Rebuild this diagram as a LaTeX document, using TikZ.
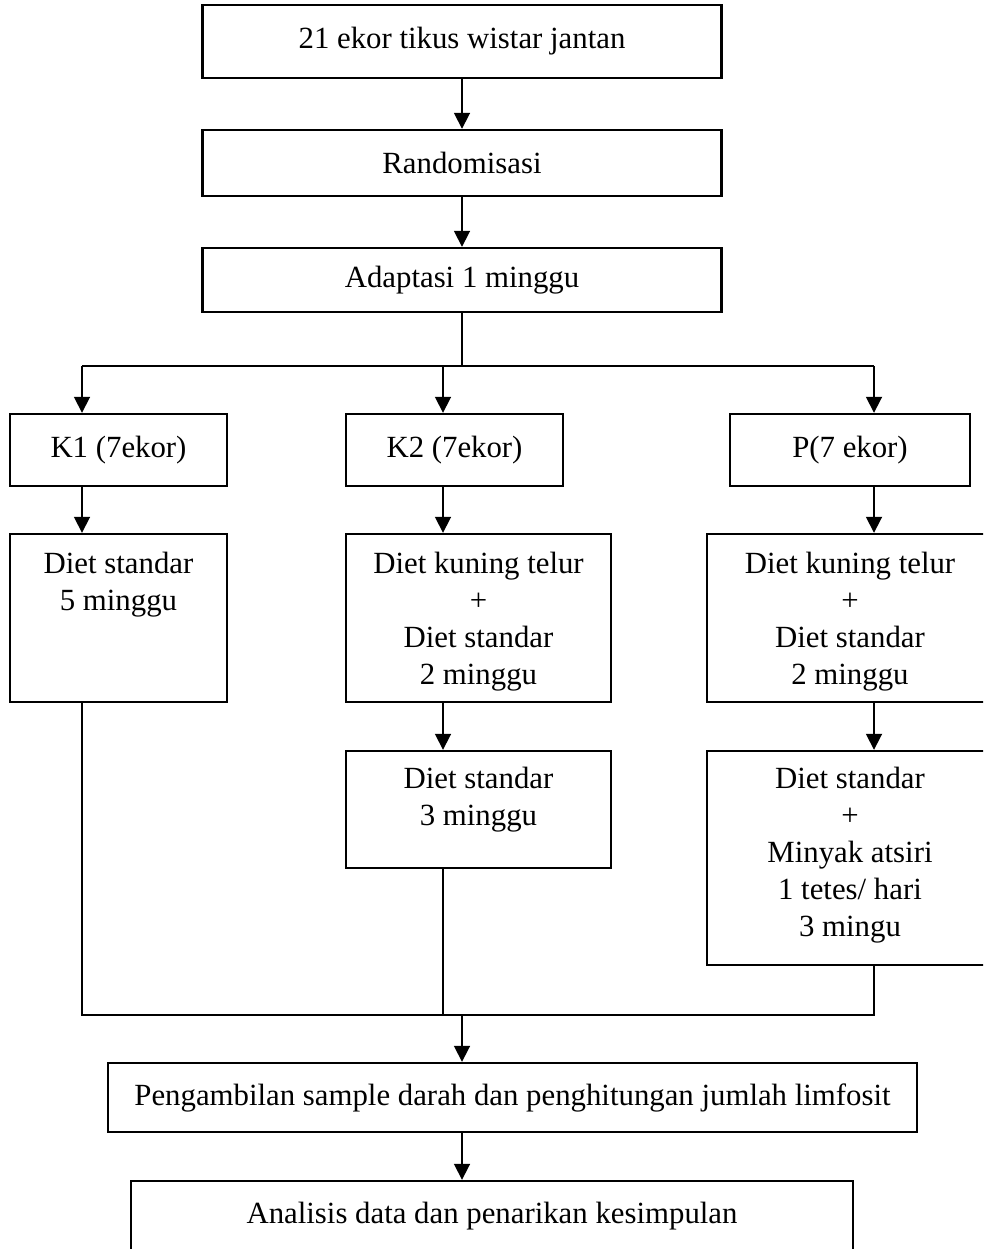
\documentclass[tikz,border=0pt]{standalone}
\usepackage{fontspec}
\setmainfont{Liberation Serif}
\usetikzlibrary{arrows.meta}
\tikzset{box/.style={draw,line width=2.4pt,inner sep=0pt},
  txt/.style={anchor=north,align=center,inner sep=0pt},
  ln/.style={line width=1.8pt},
  arr/.style={line width=1.8pt,-{Triangle[length=16pt,width=16pt]}}}
\begin{document}
\begin{tikzpicture}[x=1pt,y=-1pt,font=\fontsize{30.8}{37}\selectfont]
\useasboundingbox(0,0)rectangle(983,1249);\clip(0,0)rectangle(983,1249);
% kotak atas
\node[box,minimum width=519,minimum height=73](tikus)at(462,41.5){21 ekor tikus wistar jantan};
\node[box,minimum width=519,minimum height=66](acak)at(462,163){Randomisasi};
\node[box,minimum width=519,minimum height=64](adapt)at(462,280){Adaptasi 1 minggu};
% kelompok
\node[box,minimum width=217,minimum height=72](k1)at(118.5,450){K1 (7ekor)};
\node[box,minimum width=217,minimum height=72](k2)at(454.5,450){K2 (7ekor)};
\node[box,minimum width=240,minimum height=72](p)at(850,450){P(7 ekor)};
\node[box,minimum width=217,minimum height=168](d1)at(118.5,618){};
\node[box,minimum width=265,minimum height=168](d2)at(478.5,618){};
\node[box,minimum width=286,minimum height=168](d3)at(850,618){};
\node[box,minimum width=265,minimum height=117](e2)at(478.5,809.5){};
\node[box,minimum width=286,minimum height=214](e3)at(850,858){};
\node[txt](d1t)at([yshift=-19pt]d1.north){Diet standar\\5 minggu};
\node[txt](d2t)at([yshift=-19pt]d2.north){Diet kuning telur\\+\\Diet standar\\2 minggu};
\node[txt](d3t)at([yshift=-19pt]d3.north){Diet kuning telur\\+\\Diet standar\\2 minggu};
\node[txt](e2t)at([yshift=-17pt]e2.north){Diet standar\\3 minggu};
\node[txt](e3t)at([yshift=-17pt]e3.north){Diet standar\\+\\Minyak atsiri\\1 tetes/ hari\\3 mingu};
% kotak bawah
\node[box,minimum width=809,minimum height=69](ambil)at(512.5,1097.5){Pengambilan sample darah dan penghitungan jumlah limfosit};
\node[box,minimum width=722,minimum height=71](analisis)at(492,1216.5){Analisis data dan penarikan kesimpulan};
% panah
\coordinate(s1)at(82,366);\coordinate(s2)at(443,366);\coordinate(s3)at(874,366);
\coordinate(j1)at(82,1015);\coordinate(j2)at(443,1015);\coordinate(j3)at(874,1015);
\draw[arr](tikus)--(acak);\draw[arr](acak)--(adapt);
\draw[ln](adapt.south)--(adapt.south|-s1) (s1)--(s3);
\foreach\s/\k/\d in{s1/k1/d1,s2/k2/d2,s3/p/d3}{\draw[arr](\s)--(\s|-\k.north);\draw[arr](\s|-\k.south)--(\s|-\d.north);}
\draw[arr](s2|-d2.south)--(s2|-e2.north);\draw[arr](s3|-d3.south)--(s3|-e3.north);
\draw[ln](s1|-d1.south)--(j1)--(j3)--(s3|-e3.south) (s2|-e2.south)--(j2);
\draw[arr](tikus.south|-j1)--(tikus.south|-ambil.north);
\draw[arr](tikus.south|-ambil.south)--(tikus.south|-analisis.north);
\end{tikzpicture}
\end{document}
